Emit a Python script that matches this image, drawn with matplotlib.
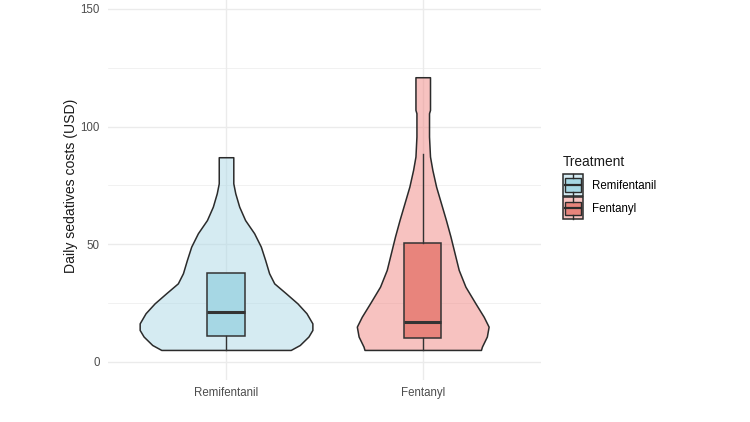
import numpy as np
import matplotlib
matplotlib.use("Agg")
import matplotlib.pyplot as plt
from matplotlib.patches import Rectangle, Patch
from matplotlib.lines import Line2D
from matplotlib.legend_handler import HandlerBase

plt.rcParams['font.family'] = ['Liberation Sans', 'DejaVu Sans']

# --- data ---
groups = ['Remifentanil', 'Fentanyl']

# violin outline: cost values and half widths (x-axis units)
remi_y = [5.1, 7.2, 10.8, 13.6, 16.4, 20.7, 24.9, 29.2, 33.4, 37.7, 43.3, 49.0,
          54.7, 60.3, 66.0, 71.7, 75.9, 87.0]
remi_w = [0.329, 0.375, 0.419, 0.439, 0.439, 0.409, 0.363, 0.304, 0.245, 0.219,
          0.199, 0.177, 0.143, 0.097, 0.067, 0.047, 0.037, 0.037]
fent_y = [5.1, 6.5, 10.8, 15.0, 19.2, 24.9, 32.0, 39.1, 46.2, 53.3, 60.3, 67.4,
          74.5, 81.6, 87.3, 95.8, 105.7, 107.1, 121.0]
fent_w = [0.296, 0.301, 0.326, 0.335, 0.310, 0.268, 0.217, 0.183, 0.162, 0.141,
          0.118, 0.093, 0.068, 0.049, 0.037, 0.032, 0.032, 0.037, 0.037]

# box plot stats: whisker low, q1, median, q3, whisker high
remi_box = [5.1, 11.0, 21.4, 37.7, 37.7]
fent_box = [5.1, 10.3, 16.9, 50.4, 88.3]

violin_cols = ['#ADD8E6', '#F08682']
box_cols = ['#A6D7E4', '#E8847C']
edge = '#2b2b2b'


class ViolinBoxHandler(HandlerBase):
    # legend key: violin rectangle with a small box plot inside
    def __init__(self, vfill, bfill):
        super().__init__()
        self.vfill = vfill
        self.bfill = bfill

    def create_artists(self, legend, orig_handle, xdescent, ydescent,
                       width, height, fontsize, trans):
        x0, y0 = -xdescent, -ydescent
        outer = Rectangle((x0, y0), width, height, facecolor=self.vfill,
                          edgecolor=edge, lw=1.1, transform=trans)
        inner = Rectangle((x0 + 0.12 * width, y0 + 0.2 * height), 0.76 * width,
                          0.6 * height, facecolor=self.bfill, edgecolor=edge,
                          lw=1.0, transform=trans)
        med = Line2D([x0 + 0.12 * width, x0 + 0.88 * width], [y0 + 0.5 * height] * 2,
                     color=edge, lw=1.6, transform=trans)
        w1 = Line2D([x0 + width / 2] * 2, [y0, y0 + 0.2 * height],
                    color=edge, lw=1.0, transform=trans)
        w2 = Line2D([x0 + width / 2] * 2, [y0 + 0.8 * height, y0 + height],
                    color=edge, lw=1.0, transform=trans)
        return [outer, inner, med, w1, w2]


fig = plt.figure(figsize=(7.5, 4.22), dpi=100)
ax = fig.add_axes([0.144, 0.1005, 0.577, 0.92])

for i, (vy, vw, bx) in enumerate([(remi_y, remi_w, remi_box), (fent_y, fent_w, fent_box)]):
    pos = i + 1
    vy = np.array(vy)
    vw = np.array(vw)
    ax.fill_betweenx(vy, pos - vw, pos + vw,
                     facecolor=matplotlib.colors.to_rgba(violin_cols[i], 0.5),
                     edgecolor=edge, lw=1.1, zorder=2)
    stats = [dict(whislo=bx[0], q1=bx[1], med=bx[2], q3=bx[3], whishi=bx[4], fliers=[])]
    ax.bxp(stats, positions=[pos], widths=0.19, patch_artist=True, showcaps=False,
           boxprops=dict(facecolor=box_cols[i], edgecolor='#333333', lw=1.1),
           whiskerprops=dict(color='#333333', lw=1.0),
           medianprops=dict(color='#333333', lw=2.2),
           manage_ticks=False, zorder=3)

ax.set_xlim(0.4, 2.6)
ax.set_ylim(-7.5, 157.5)
ax.set_xticks([1, 2])
ax.set_xticklabels(groups)
ax.set_yticks([0, 50, 100, 150])
ax.set_yticks([25, 75, 125], minor=True)
ax.grid(True, which='major', color='#ebebeb', lw=1.0)
ax.grid(True, which='minor', axis='y', color='#ebebeb', lw=0.5)
ax.set_axisbelow(True)
for s in ax.spines.values():
    s.set_visible(False)
ax.tick_params(which='both', length=0)
ax.tick_params(axis='y', pad=5.8, labelsize=8.3, labelcolor='#4d4d4d')
ax.tick_params(axis='x', pad=5.0, labelsize=8.3, labelcolor='#4d4d4d')

ax.set_ylabel('Daily sedatives costs (USD)', fontsize=10.1, color='#1a1a1a')
ax.yaxis.label.set_va('center')
ax.yaxis.set_label_coords(-0.0855, 0.5)

# legend
fig.text(563 / 750, 1 - 166.5 / 422, 'Treatment', fontsize=9.9, color='#1a1a1a',
         ha='left', va='baseline')
handles = [Patch(label=g) for g in groups]
hmap = {handles[0]: ViolinBoxHandler(matplotlib.colors.to_rgba(violin_cols[0], 0.5), box_cols[0]),
        handles[1]: ViolinBoxHandler(matplotlib.colors.to_rgba(violin_cols[1], 0.5), box_cols[1])}
leg = fig.legend(handles=handles, handler_map=hmap,
                 loc='upper left', bbox_to_anchor=(563 / 750, 1 - 174 / 422),
                 frameon=False, fontsize=8.3,
                 handlelength=1.73, handleheight=2.56, handletextpad=0.82,
                 labelspacing=0.1, borderpad=0, borderaxespad=0)

fig.savefig('out.png', dpi=100)
